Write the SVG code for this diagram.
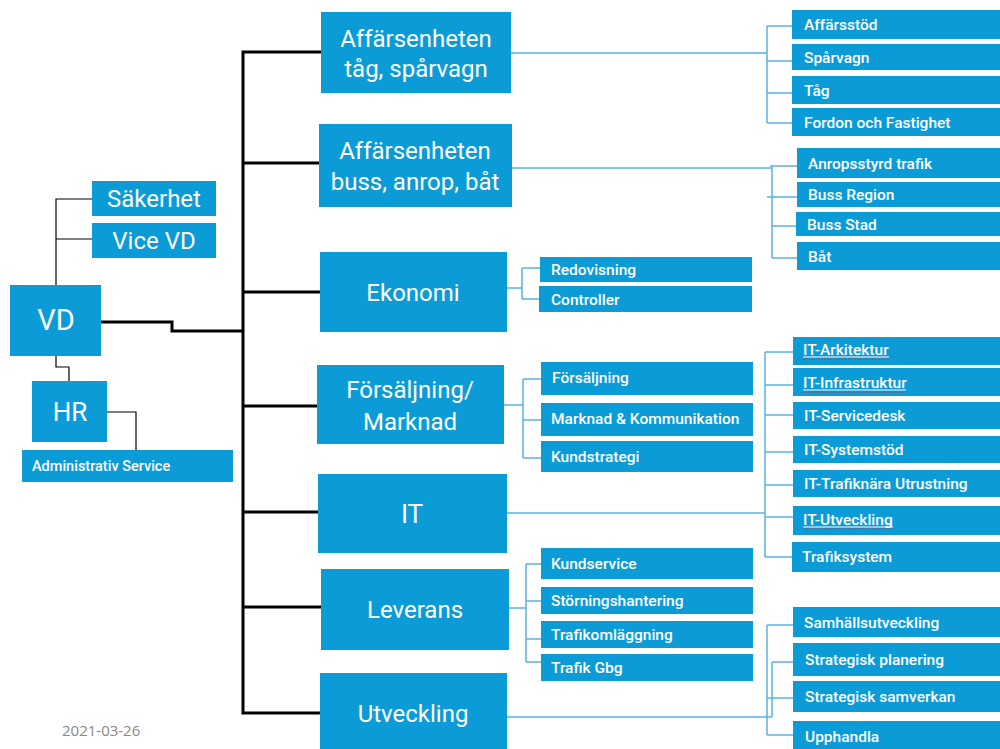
<svg xmlns="http://www.w3.org/2000/svg" width="1000" height="749" viewBox="0 0 1000 749">
<style>
.box{fill:#0b9bd7}
.big{font-family:Roboto,"Liberation Sans",sans-serif;font-size:24px;fill:#fff;text-anchor:middle}
.sm{font-family:Roboto,"Liberation Sans",sans-serif;font-size:15.5px;font-weight:500;fill:#fff}
.thick{fill:none;stroke:#000;stroke-width:3}
.thin{fill:none;stroke:#000;stroke-width:1.2}
.blue{fill:none;stroke:#5ab3dc;stroke-width:1.5}
.sq{fill:none;stroke:#d42a2a;stroke-width:1;stroke-dasharray:1.5 1.5}
.ul{fill:none;stroke:#fff;stroke-width:1}
</style>
<rect width="1000" height="749" fill="#fff"/>
<g id="connectors">
<path class="thin" d="M92,199 H56 V285 M56,239 H92 M56,356 V367 H69 V381 M107,412 H136 V450"/>
<path class="thick" d="M101,322 H172 V331 H243 M321,52 H243 V713 H320 M243,163 H319 M243,292 H320 M243,406 H317 M243,512 H318 M243,607 H321"/>
<path class="blue" d="M511,53 H767 M767,26 V123 M767,26 H792 M767,61 H792 M767,93 H792 M767,123 H792"/>
<path class="blue" d="M512,168 H772 M772,166 V258 M770,166 H797 M767,197 H797 M772,226 H797 M772,258 H797"/>
<path class="blue" d="M507,288 H522 M522,268 V299 M522,268 H540 M522,299 H540"/>
<path class="blue" d="M504,405 H523 M523,379 V458 M523,379 H541 M523,420 H541 M523,458 H541"/>
<path class="blue" d="M507,513 H765 M765,352 V557 M765,352 H793 M765,385 H793 M765,415 H793 M765,452 H793 M765,485 H793 M765,517 H793 M765,557 H792"/>
<path class="blue" d="M509,608 H526 M526,564 V662 M526,564 H541 M526,601 H541 M526,639 H541 M526,662 H541"/>
<path class="blue" d="M507,717 H772 M772,662 V717 M767,625 V735 M767,625 H793 M772,662 H793 M767,698 H793 M767,735 H793"/>
</g>
<g id="sakerhet"><rect class="box" x="92" y="181" width="124" height="35"/><text class="big" x="154" y="207">Säkerhet</text></g>
<g id="vicevd"><rect class="box" x="92" y="223" width="124" height="35"/><text class="big" x="154" y="249">Vice VD</text></g>
<g id="vd"><rect class="box" x="10" y="285" width="91" height="71"/><text class="big" x="56" y="330" style="font-size:29px">VD</text></g>
<g id="hr"><rect class="box" x="32" y="381" width="75" height="61"/><text class="big" x="70" y="421" style="font-size:26px">HR</text></g>
<g id="admin"><rect class="box" x="22" y="450" width="211" height="32"/><text class="sm" x="32" y="471" style="font-size:14.5px">Administrativ Service</text></g>
<g id="affars-tag"><rect class="box" x="321" y="12" width="190" height="81"/><text class="big" x="416" y="47">Affärsenheten</text><text class="big" x="416" y="77">tåg, spårvagn</text></g>
<g id="affars-buss"><rect class="box" x="319" y="124" width="193" height="83"/><text class="big" x="415" y="159">Affärsenheten</text><text class="big" x="415" y="190">buss, anrop, båt</text></g>
<g id="ekonomi"><rect class="box" x="320" y="252" width="187" height="80"/><text class="big" x="413" y="301">Ekonomi</text></g>
<g id="forsaljning"><rect class="box" x="317" y="365" width="187" height="79"/><text class="big" x="410" y="398">Försäljning/</text><text class="big" x="410" y="430">Marknad</text></g>
<g id="it"><rect class="box" x="318" y="474" width="189" height="79"/><text class="big" x="412" y="523" style="font-size:26px">IT</text></g>
<g id="leverans"><rect class="box" x="321" y="569" width="188" height="81"/><text class="big" x="415" y="618">Leverans</text></g>
<g id="utveckling"><rect class="box" x="320" y="673" width="187" height="76"/><text class="big" x="413" y="722">Utveckling</text></g>
<g id="affarsstod"><rect class="box" x="792" y="10" width="208" height="29"/><text class="sm" x="804" y="30">Affärsstöd</text></g>
<g id="sparvagn"><rect class="box" x="792" y="44" width="208" height="26"/><text class="sm" x="804" y="63">Spårvagn</text></g>
<g id="tag"><rect class="box" x="792" y="76" width="208" height="28"/><text class="sm" x="804" y="96">Tåg</text></g>
<g id="fordon"><rect class="box" x="792" y="108" width="208" height="28"/><text class="sm" x="804" y="128">Fordon och Fastighet</text></g>
<g id="anrop"><rect class="box" x="797" y="148" width="203" height="30"/><text class="sm" x="808" y="169">Anropsstyrd trafik</text></g>
<g id="bussregion"><rect class="box" x="797" y="182" width="203" height="25"/><text class="sm" x="808" y="200">Buss Region</text></g>
<g id="bussstad"><rect class="box" x="796" y="212" width="204" height="24"/><text class="sm" x="807" y="230">Buss Stad</text></g>
<g id="bat"><rect class="box" x="797" y="242" width="203" height="28"/><text class="sm" x="808" y="262">Båt</text></g>
<g id="redovisning"><rect class="box" x="540" y="257" width="212" height="25"/><text class="sm" x="551" y="275">Redovisning</text></g>
<g id="controller"><rect class="box" x="539" y="286" width="213" height="26"/><text class="sm" x="551" y="305">Controller</text></g>
<g id="forsaljning2"><rect class="box" x="541" y="362" width="212" height="33"/><text class="sm" x="552" y="383">Försäljning</text></g>
<g id="marknad"><rect class="box" x="541" y="403" width="212" height="33"/><text class="sm" x="551" y="424">Marknad &amp; Kommunikation</text></g>
<g id="kundstrategi"><rect class="box" x="541" y="441" width="212" height="31"/><text class="sm" x="551" y="462">Kundstrategi</text></g>
<g id="it-ark"><rect class="box" x="793" y="337" width="207" height="28"/><text class="sm" x="803" y="355">IT-Arkitektur</text><path class="ul" d="M803,357 H889"/><path class="sq" d="M803,359 H889"/></g>
<g id="it-infra"><rect class="box" x="793" y="368" width="207" height="28"/><text class="sm" x="803" y="388">IT-Infrastruktur</text><path class="ul" d="M803,390 H906"/><path class="sq" d="M803,392 H906"/></g>
<g id="it-service"><rect class="box" x="793" y="402" width="207" height="27"/><text class="sm" x="804" y="421">IT-Servicedesk</text></g>
<g id="it-system"><rect class="box" x="793" y="436" width="207" height="27"/><text class="sm" x="804" y="455">IT-Systemstöd</text></g>
<g id="it-trafik"><rect class="box" x="793" y="470" width="207" height="27"/><text class="sm" x="804" y="489">IT-Trafiknära Utrustning</text></g>
<g id="it-utv"><rect class="box" x="793" y="506" width="207" height="29"/><text class="sm" x="803" y="525">IT-Utveckling</text><path class="ul" d="M803,527 H893"/><path class="sq" d="M803,529 H893"/></g>
<g id="trafiksystem"><rect class="box" x="792" y="542" width="208" height="30"/><text class="sm" x="802" y="562">Trafiksystem</text></g>
<g id="kundservice"><rect class="box" x="541" y="548" width="212" height="31"/><text class="sm" x="551" y="569">Kundservice</text></g>
<g id="storning"><rect class="box" x="541" y="587" width="212" height="27"/><text class="sm" x="551" y="606">Störningshantering</text></g>
<g id="trafikoml"><rect class="box" x="541" y="621" width="212" height="27"/><text class="sm" x="551" y="640">Trafikomläggning</text></g>
<g id="trafikgbg"><rect class="box" x="541" y="654" width="212" height="27"/><text class="sm" x="551" y="673">Trafik Gbg</text></g>
<g id="samhall"><rect class="box" x="793" y="607" width="207" height="30"/><text class="sm" x="804" y="628">Samhällsutveckling</text></g>
<g id="stratplan"><rect class="box" x="793" y="643" width="207" height="33"/><text class="sm" x="805" y="665">Strategisk planering</text></g>
<g id="stratsam"><rect class="box" x="793" y="681" width="207" height="31"/><text class="sm" x="805" y="702">Strategisk samverkan</text></g>
<g id="upphandla"><rect class="box" x="793" y="721" width="207" height="28"/><text class="sm" x="805" y="742">Upphandla</text></g>
<text x="62" y="736" style="font-family:'Open Sans','Liberation Sans',sans-serif;font-size:15px;fill:#8a8a8a">2021-03-26</text>
</svg>
